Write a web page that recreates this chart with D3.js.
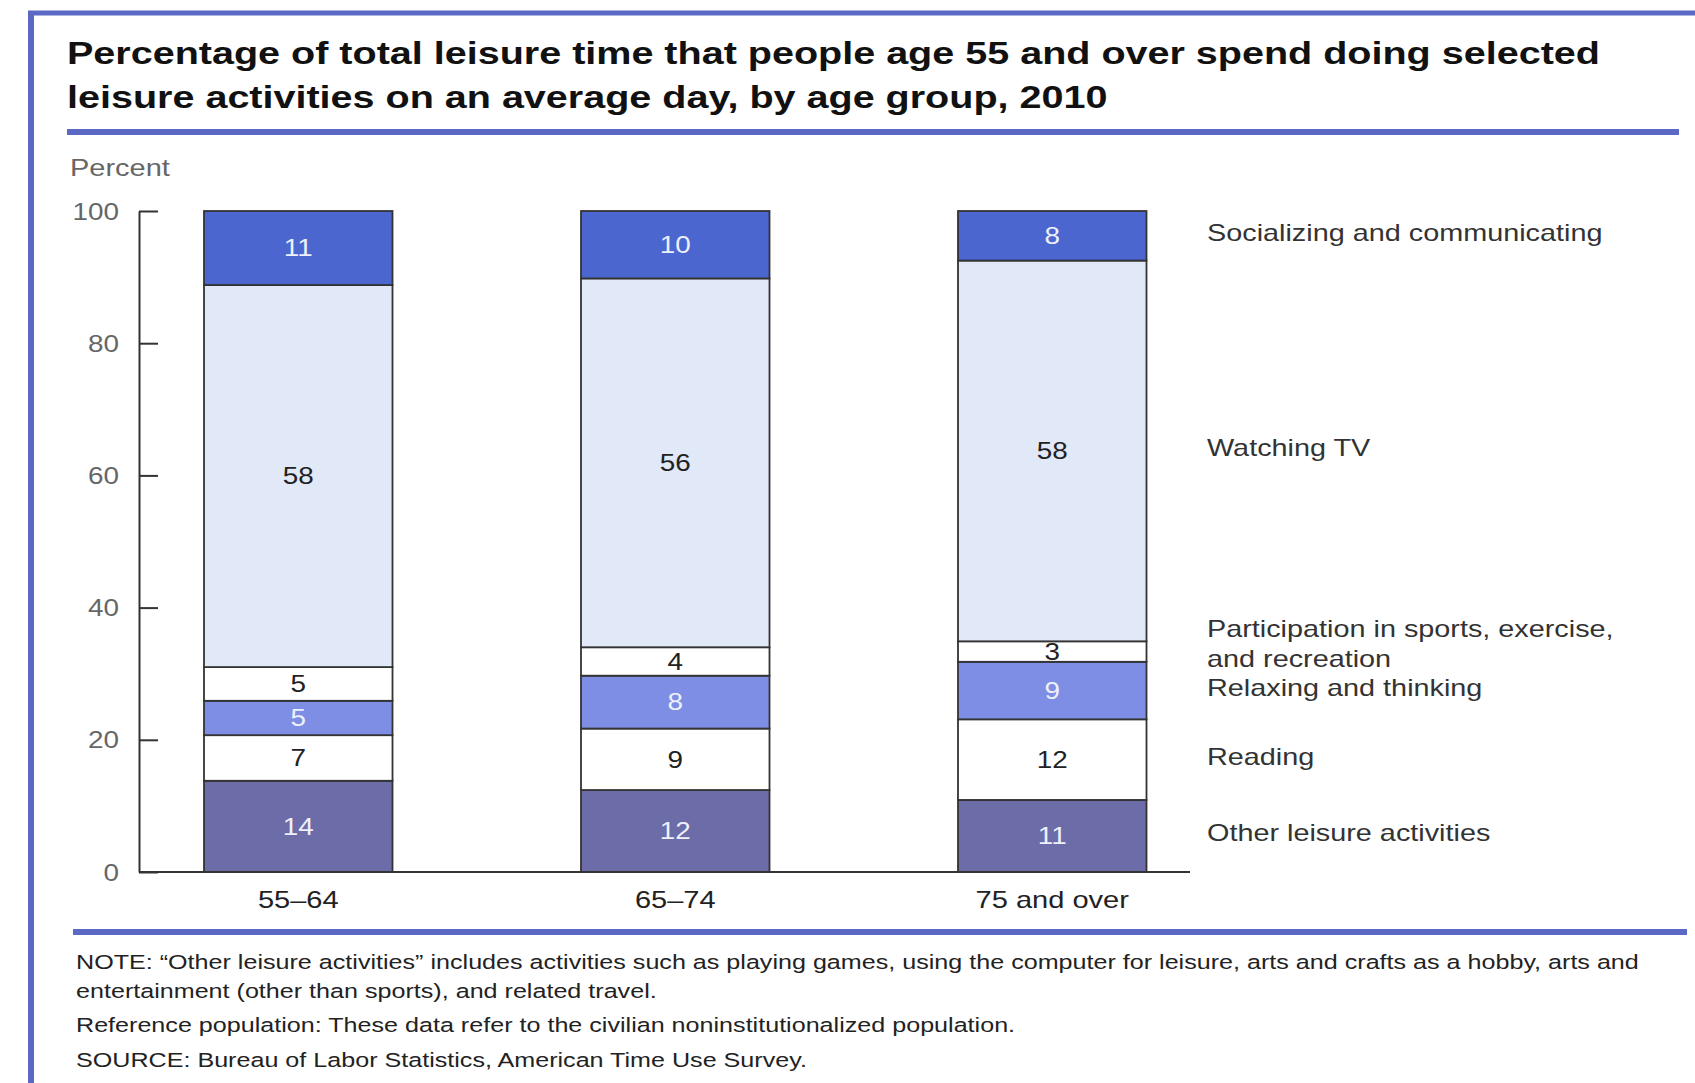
<!doctype html>
<html lang="en">
<head>
<meta charset="utf-8">
<title>Leisure time by age group, 2010</title>
<style>
    body{ margin:0; background:#fff; }
    svg text{ font-family: "Liberation Sans", Arial, Helvetica, sans-serif; }
    .frame{ stroke:#5b69c4; fill:none; }
    .axis path, .axis line{ stroke:#333; stroke-width:2px; }
    .axis text{ font-size:23px; fill:#666; }
    .xaxis text{ font-size:24px; fill:#222; }
    .seg{ stroke:#333; stroke-width:1.8px; }
    .series-label{ font-size:24px; fill:#333; }
    .note{ font-size:20.5px; fill:#222; }
</style>
</head>
<body>
<div id="vis"></div>
<script src="https://d3js.org/d3.v7.min.js"></script>
<script>
// percent of leisure time, bottom to top of each bar (labels are rounded)
var ageGroups = ['55\u201364', '65\u201374', '75 and over'];
var activities = ['Other leisure activities', 'Reading', 'Relaxing and thinking',
    'Participation in sports, exercise, and recreation', 'Watching TV', 'Socializing and communicating'];
var otherLeisure = [13.8, 12.4, 10.9];
var reading = [6.9, 9.3, 12.2];
var relaxing = [5.2, 8.0, 8.7];
var sports = [5.1, 4.3, 3.1];
var watchingTV = [57.8, 55.8, 57.6];
var socializing = [11.2, 10.2, 7.5];
var yTicks = [0, 20, 40, 60, 80, 100];

var fills = ['#6c6ca8', '#ffffff', '#7d8ee4', '#ffffff', '#e1e8f7', '#4b66cf'];
var textFills = ['#eef0fa', '#222', '#eef0fa', '#222', '#222', '#eef0fa'];
var labelLines = [['Other leisure activities'], ['Reading'], ['Relaxing and thinking'],
    ['Participation in sports, exercise,', 'and recreation'], ['Watching TV'], ['Socializing and communicating']];

var series = [otherLeisure, reading, relaxing, sports, watchingTV, socializing];
var rows = ageGroups.map(function(g, i){
    var r = {group: g};
    activities.forEach(function(a, k){ r[a] = series[k][i]; });
    return r;
});
var stacked = d3.stack().keys(activities)(rows);

var W = 1695, H = 1083, STRETCH = 1.21;
var svg = d3.select('#vis').append('svg').attr('width', W).attr('height', H);

// the source type is set wide, so widen the glyphs
function widen(sel, k){
    sel.each(function(){
        var len = this.getComputedTextLength();
        d3.select(this).attr('textLength', len * (k || STRETCH)).attr('lengthAdjust', 'spacingAndGlyphs');
    });
}

// page frame
svg.append('line').attr('class','frame').attr('x1',28).attr('x2',W).attr('y1',13).attr('y2',13).style('stroke-width',5);
svg.append('line').attr('class','frame').attr('x1',31).attr('x2',31).attr('y1',11).attr('y2',H).style('stroke-width',6);

// title
var titleLines = ['Percentage of total leisure time that people age 55 and over spend doing selected',
    'leisure activities on an average day, by age group, 2010'];
var title = svg.selectAll('text.title').data(titleLines).enter().append('text').attr('class','title')
    .attr('x', 67).attr('y', function(d, i){ return 64 + i * 44; })
    .style('font-size','32px').style('font-weight','bold').style('fill','#111')
    .text(function(d){ return d; });
widen(title, 1.235);

svg.append('line').attr('class','frame').attr('x1',67).attr('x2',1679).attr('y1',132).attr('y2',132).style('stroke-width',6);

var x = d3.scaleBand().domain(ageGroups).range([204, 1146.5]).paddingInner(0.5).paddingOuter(0),
    y = d3.scaleLinear().domain([0, 100]).range([872, 211]);

widen(svg.append('text').attr('x', 70).attr('y', 176).text('Percent').style('font-size','23px').style('fill','#666'), 1.26);

// y axis, ticks inside
var yAxis = d3.axisLeft(y).tickValues(yTicks).tickSizeInner(-19).tickSizeOuter(0).tickPadding(20);
var gy = svg.append('g').attr('class','axis').attr('transform','translate(139,0)').call(yAxis);
gy.selectAll('text').attr('dy','0.35em');
widen(gy.selectAll('text'));

// bars
var layer = svg.selectAll('g.layer').data(stacked).enter().append('g').attr('class','layer');
layer.selectAll('rect').data(function(d){ return d; }).enter().append('rect')
    .attr('class','seg')
    .attr('x', function(d){ return x(d.data.group); })
    .attr('width', x.bandwidth())
    .attr('y', function(d){ return y(d[1]); })
    .attr('height', function(d){ return y(d[0]) - y(d[1]); })
    .style('fill', function(d){ return fills[activities.indexOf(d3.select(this.parentNode).datum().key)]; });

layer.each(function(s, k){
    var t = d3.select(this).selectAll('text.val').data(s).enter().append('text')
        .attr('class','val')
        .attr('x', function(d){ return x(d.data.group) + x.bandwidth()/2; })
        .attr('y', function(d){ return y((d[0] + d[1]) / 2); })
        .attr('dy','0.36em')
        .attr('text-anchor','middle')
        .style('font-size','23px')
        .style('fill', textFills[k])
        .text(function(d){ return Math.round(d.data[s.key]); });
    widen(t);
});

// x axis line + labels
svg.append('line').attr('x1',139).attr('x2',1190).attr('y1',y(0)).attr('y2',y(0)).style('stroke','#333').style('stroke-width',2);
var gx = svg.append('g').attr('class','axis xaxis').attr('transform','translate(0,' + y(0) + ')')
    .call(d3.axisBottom(x).tickSize(0).tickPadding(19));
gx.select('.domain').remove();
widen(gx.selectAll('text'));

// series labels, next to the last bar
var last = ageGroups.length - 1;
stacked.forEach(function(s, k){
    var mid = y((s[last][0] + s[last][1]) / 2);
    var lines = labelLines[k];
    var top = mid - (lines.length - 1) * 15 - (k === 3 ? 8 : 3);
    lines.forEach(function(l, j){
        widen(svg.append('text').attr('class','series-label').attr('x', 1207)
            .attr('y', top + j * 30).attr('dy','0.35em').text(l), 1.2);
    });
});

svg.append('line').attr('class','frame').attr('x1',73).attr('x2',1687).attr('y1',932).attr('y2',932).style('stroke-width',6);

// notes
var notes = [
    ['NOTE: \u201cOther leisure activities\u201d includes activities such as playing games, using the computer for leisure, arts and crafts as a hobby, arts and', 969],
    ['entertainment (other than sports), and related travel.', 998],
    ['Reference population: These data refer to the civilian noninstitutionalized population.', 1032],
    ['SOURCE: Bureau of Labor Statistics, American Time Use Survey.', 1067]
];
var noteText = svg.selectAll('text.note').data(notes).enter().append('text').attr('class','note')
    .attr('x', 76).attr('y', function(d){ return d[1]; }).text(function(d){ return d[0]; });
widen(noteText, 1.225);
</script>
</body>
</html>
